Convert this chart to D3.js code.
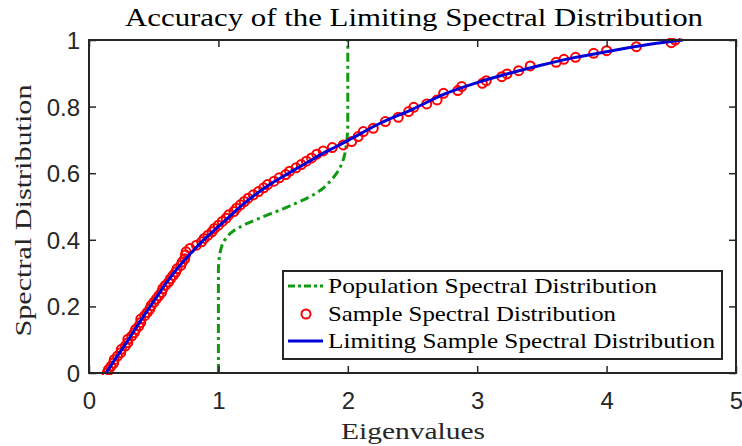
<!DOCTYPE html>
<html><head><meta charset="utf-8">
<script src="https://cdn.jsdelivr.net/npm/d3@7"></script>
<style>html,body{margin:0;padding:0;background:#fff;}</style>
</head><body>
<svg id="chart" width="742" height="446"></svg>
<script>
const xTicks = [0, 1, 2, 3, 4, 5];
const yTicks = [0, 0.2, 0.4, 0.6, 0.8, 1];
const yTickLabels = ["0", "0.2", "0.4", "0.6", "0.8", "1"];

// Population spectral distribution (green dash-dot)
const popX = [1.0, 1.0, 1.0, 1.005, 1.015, 1.035, 1.07, 1.12, 1.2, 1.3, 1.4, 1.5, 1.6, 1.7, 1.8, 1.86, 1.91, 1.95, 1.975, 1.99, 2.0, 2.0];
const popY = [0.0, 0.2, 0.31, 0.34, 0.365, 0.39, 0.41, 0.428, 0.445, 0.462, 0.478, 0.493, 0.51, 0.528, 0.552, 0.574, 0.598, 0.625, 0.655, 0.69, 0.75, 1.0];

// Limiting sample spectral distribution (blue)
const limitX = [0.13, 0.2, 0.3, 0.4, 0.5, 0.6, 0.7, 0.8, 0.9, 1.0, 1.1, 1.2, 1.3, 1.4, 1.5, 1.6, 1.7, 1.8, 1.9, 2.0, 2.25, 2.5, 2.75, 3.0, 3.25, 3.5, 3.75, 4.0, 4.25, 4.45, 4.59];
const limitY = [0.0, 0.04, 0.097, 0.158, 0.215, 0.272, 0.322, 0.365, 0.405, 0.44, 0.475, 0.51, 0.54, 0.567, 0.59, 0.613, 0.635, 0.658, 0.678, 0.698, 0.75, 0.792, 0.838, 0.872, 0.9, 0.925, 0.947, 0.965, 0.982, 0.993, 1.0];

// Sample spectral distribution (red circles)
const sampleX = [0.14, 0.15, 0.17, 0.19, 0.195, 0.22, 0.245, 0.25, 0.28, 0.30, 0.30, 0.33, 0.35, 0.36, 0.385, 0.40, 0.40, 0.43, 0.45, 0.47, 0.48, 0.50, 0.52, 0.54, 0.56, 0.57, 0.59, 0.615, 0.63, 0.65, 0.67, 0.68, 0.71, 0.72, 0.74, 0.745, 0.75, 0.78, 0.83, 0.87, 0.89, 0.92, 0.95, 0.97, 1.00, 1.03, 1.06, 1.08, 1.12, 1.14, 1.17, 1.20, 1.23, 1.27, 1.31, 1.35, 1.38, 1.43, 1.47, 1.52, 1.55, 1.60, 1.64, 1.68, 1.72, 1.76, 1.81, 1.88,
  1.965, 2.03, 2.08, 2.12, 2.197, 2.29, 2.39, 2.47, 2.51, 2.61, 2.69, 2.74, 2.85, 2.88, 3.04, 3.07, 3.19, 3.23, 3.32, 3.41, 3.61, 3.67, 3.76, 3.90, 4.0, 4.23, 4.50, 4.53];
const sampleY = [0.0, 0.010, 0.020, 0.030, 0.040, 0.051, 0.061, 0.071, 0.081, 0.091, 0.101, 0.111, 0.121, 0.131, 0.141, 0.152, 0.162, 0.172, 0.182, 0.192, 0.202, 0.212, 0.222, 0.232, 0.242, 0.253, 0.263, 0.273, 0.283, 0.293, 0.303, 0.313, 0.323, 0.333, 0.343, 0.354, 0.364, 0.374, 0.384, 0.394, 0.404, 0.414, 0.424, 0.434, 0.444, 0.455, 0.465, 0.475, 0.485, 0.495, 0.505, 0.515, 0.525, 0.535, 0.545, 0.556, 0.566, 0.576, 0.586, 0.596, 0.606, 0.616, 0.626, 0.636, 0.646, 0.657, 0.667, 0.677,
  0.685, 0.695, 0.71, 0.725, 0.735, 0.755, 0.768, 0.785, 0.798, 0.808, 0.82, 0.84, 0.848, 0.86, 0.87, 0.878, 0.89, 0.898, 0.908, 0.922, 0.933, 0.942, 0.948, 0.96, 0.968, 0.98, 0.992, 1.0];

const legendLabels = ["Population Spectral Distribution", "Sample Spectral Distribution", "Limiting Sample Spectral Distribution"];

const L = 89, R = 736, T = 40, B = 373;
const svg = d3.select("#chart");
const x = d3.scaleLinear().domain([0, 5]).range([L, R]);
const y = d3.scaleLinear().domain([0, 1]).range([B, T]);
const axisColor = "#262626";
const serif = "'Liberation Serif', 'Times New Roman', serif";
const sans = "'Liberation Sans', Arial, Helvetica, sans-serif";

const GREEN = "#119a11", RED = "#ff0000", BLUE = "#0000d8";
const dashDot = "9,4,3,4";

// plot clip
svg.append("defs").append("clipPath").attr("id", "clip")
  .append("rect").attr("x", L).attr("y", T - 2).attr("width", R - L).attr("height", B - T + 4);

const plot = svg.append("g").attr("clip-path", "url(#clip)");

const line = d3.line().x(d => x(d[0])).y(d => y(d[1]));

plot.append("path")
  .datum(popX.map((v, i) => [v, popY[i]]))
  .attr("d", line.curve(d3.curveMonotoneY))
  .attr("fill", "none").attr("stroke", GREEN).attr("stroke-width", 3)
  .attr("stroke-dasharray", dashDot);

plot.selectAll("circle.s").data(sampleX.map((v, i) => [v, sampleY[i]]))
  .enter().append("circle").attr("class", "s")
  .attr("cx", d => x(d[0])).attr("cy", d => y(d[1])).attr("r", 4.5)
  .attr("fill", "none").attr("stroke", RED).attr("stroke-width", 2);

plot.append("path")
  .datum(limitX.map((v, i) => [v, limitY[i]]))
  .attr("d", d3.line().x(d => x(d[0])).y(d => y(d[1])).curve(d3.curveMonotoneX))
  .attr("fill", "none").attr("stroke", BLUE).attr("stroke-width", 3);

// axes
const tickLen = 7;
const xAxisB = d3.axisBottom(x).tickValues(xTicks).tickSize(-tickLen).tickPadding(0).tickFormat(d3.format("d"));
const gxb = svg.append("g").attr("transform", `translate(0,${B})`).call(xAxisB);
const gxt = svg.append("g").attr("transform", `translate(0,${T})`).call(d3.axisTop(x).tickValues(xTicks).tickSize(-tickLen).tickFormat(""));
const gyl = svg.append("g").attr("transform", `translate(${L},0)`).call(d3.axisLeft(y).tickValues(yTicks).tickSize(-tickLen).tickFormat((d, i) => yTickLabels[i]));
const gyr = svg.append("g").attr("transform", `translate(${R},0)`).call(d3.axisRight(y).tickValues(yTicks).tickSize(-tickLen).tickFormat(""));

[gxb, gxt, gyl, gyr].forEach(g => {
  g.select(".domain").attr("stroke", axisColor).attr("stroke-width", 2).attr("d", null);
  g.selectAll(".tick line").attr("stroke", axisColor).attr("stroke-width", 1.5);
});
// redraw domains as plain lines (no outer ticks)
gxb.select(".domain").remove(); gxt.select(".domain").remove(); gyl.select(".domain").remove(); gyr.select(".domain").remove();
svg.append("rect").attr("x", L).attr("y", T).attr("width", R - L).attr("height", B - T)
  .attr("fill", "none").attr("stroke", axisColor).attr("stroke-width", 2);

gxb.selectAll(".tick text").attr("y", 0).attr("dy", null).attr("transform", "translate(0,36)")
  .attr("font-family", sans).attr("font-size", 24).attr("fill", axisColor).attr("text-anchor", "middle");
gyl.selectAll(".tick text").attr("x", 0).attr("dy", null).attr("transform", "translate(-9,8.5)")
  .attr("font-family", sans).attr("font-size", 24).attr("fill", axisColor).attr("text-anchor", "end");

// title & labels
svg.append("text").attr("x", 414).attr("y", 26).attr("text-anchor", "middle")
  .attr("font-family", serif).attr("font-size", 25).attr("fill", "#000")
  .attr("textLength", 578).attr("lengthAdjust", "spacingAndGlyphs")
  .text("Accuracy of the Limiting Spectral Distribution");

svg.append("text").attr("x", 413).attr("y", 439).attr("text-anchor", "middle")
  .attr("font-family", serif).attr("font-size", 24).attr("fill", axisColor)
  .attr("textLength", 144).attr("lengthAdjust", "spacingAndGlyphs")
  .text("Eigenvalues");

svg.append("text").attr("transform", `translate(31,${(T + B) / 2 + 4}) rotate(-90)`).attr("text-anchor", "middle")
  .attr("font-family", serif).attr("font-size", 24).attr("fill", axisColor)
  .attr("textLength", 252).attr("lengthAdjust", "spacingAndGlyphs")
  .text("Spectral Distribution");

// legend
const lg = svg.append("g");
lg.append("rect").attr("x", 283).attr("y", 271).attr("width", 439).attr("height", 88)
  .attr("fill", "#fff").attr("stroke", axisColor).attr("stroke-width", 2);
const rows = [286, 314, 341];
const textLens = [329, 288, 387];
lg.append("line").attr("x1", 288).attr("x2", 323).attr("y1", rows[0]).attr("y2", rows[0])
  .attr("stroke", GREEN).attr("stroke-width", 3).attr("stroke-dasharray", "7,3,3,3");
lg.append("circle").attr("cx", 306).attr("cy", rows[1]).attr("r", 4.5)
  .attr("fill", "none").attr("stroke", RED).attr("stroke-width", 2);
lg.append("line").attr("x1", 288).attr("x2", 323).attr("y1", rows[2]).attr("y2", rows[2])
  .attr("stroke", BLUE).attr("stroke-width", 3);
legendLabels.forEach((t, i) => {
  lg.append("text").attr("x", 328).attr("y", rows[i] + 7)
    .attr("font-family", serif).attr("font-size", 21).attr("fill", "#000")
    .attr("textLength", textLens[i]).attr("lengthAdjust", "spacingAndGlyphs")
    .text(t);
});
</script>
</body></html>
